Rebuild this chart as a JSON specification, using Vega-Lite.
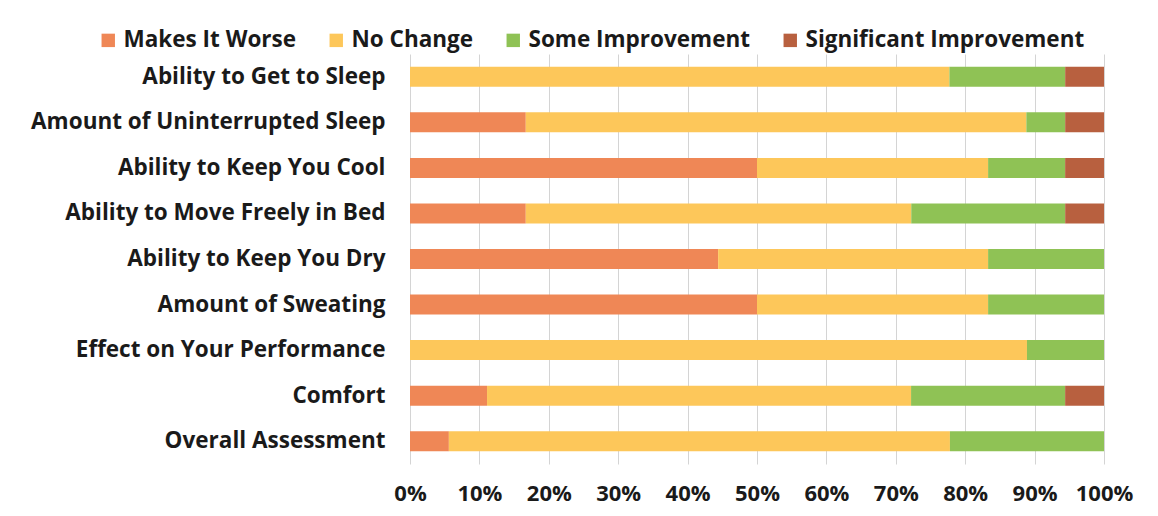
{
  "$schema": "https://vega.github.io/schema/vega-lite/v6.json",
  "width": 694,
  "height": 410,
  "autosize": "none",
  "padding": {"left": 410, "top": 54, "right": 54, "bottom": 52},
  "background": "white",
  "config": {
    "font": "Open Sans",
    "view": {"stroke": null}
  },
  "data": {
    "values": [
      {"item": "Ability to Get to Sleep", "resp": "Makes It Worse", "k": 1, "pct": 0},
      {"item": "Ability to Get to Sleep", "resp": "No Change", "k": 2, "pct": 77.8},
      {"item": "Ability to Get to Sleep", "resp": "Some Improvement", "k": 3, "pct": 16.7},
      {"item": "Ability to Get to Sleep", "resp": "Significant Improvement", "k": 4, "pct": 5.6},
      {"item": "Amount of Uninterrupted Sleep", "resp": "Makes It Worse", "k": 1, "pct": 16.7},
      {"item": "Amount of Uninterrupted Sleep", "resp": "No Change", "k": 2, "pct": 72.2},
      {"item": "Amount of Uninterrupted Sleep", "resp": "Some Improvement", "k": 3, "pct": 5.6},
      {"item": "Amount of Uninterrupted Sleep", "resp": "Significant Improvement", "k": 4, "pct": 5.6},
      {"item": "Ability to Keep You Cool", "resp": "Makes It Worse", "k": 1, "pct": 50},
      {"item": "Ability to Keep You Cool", "resp": "No Change", "k": 2, "pct": 33.3},
      {"item": "Ability to Keep You Cool", "resp": "Some Improvement", "k": 3, "pct": 11.1},
      {"item": "Ability to Keep You Cool", "resp": "Significant Improvement", "k": 4, "pct": 5.6},
      {"item": "Ability to Move Freely in Bed", "resp": "Makes It Worse", "k": 1, "pct": 16.7},
      {"item": "Ability to Move Freely in Bed", "resp": "No Change", "k": 2, "pct": 55.6},
      {"item": "Ability to Move Freely in Bed", "resp": "Some Improvement", "k": 3, "pct": 22.2},
      {"item": "Ability to Move Freely in Bed", "resp": "Significant Improvement", "k": 4, "pct": 5.6},
      {"item": "Ability to Keep You Dry", "resp": "Makes It Worse", "k": 1, "pct": 44.4},
      {"item": "Ability to Keep You Dry", "resp": "No Change", "k": 2, "pct": 38.9},
      {"item": "Ability to Keep You Dry", "resp": "Some Improvement", "k": 3, "pct": 16.7},
      {"item": "Ability to Keep You Dry", "resp": "Significant Improvement", "k": 4, "pct": 0},
      {"item": "Amount of Sweating", "resp": "Makes It Worse", "k": 1, "pct": 50},
      {"item": "Amount of Sweating", "resp": "No Change", "k": 2, "pct": 33.3},
      {"item": "Amount of Sweating", "resp": "Some Improvement", "k": 3, "pct": 16.7},
      {"item": "Amount of Sweating", "resp": "Significant Improvement", "k": 4, "pct": 0},
      {"item": "Effect on Your Performance", "resp": "Makes It Worse", "k": 1, "pct": 0},
      {"item": "Effect on Your Performance", "resp": "No Change", "k": 2, "pct": 88.9},
      {"item": "Effect on Your Performance", "resp": "Some Improvement", "k": 3, "pct": 11.1},
      {"item": "Effect on Your Performance", "resp": "Significant Improvement", "k": 4, "pct": 0},
      {"item": "Comfort", "resp": "Makes It Worse", "k": 1, "pct": 11.1},
      {"item": "Comfort", "resp": "No Change", "k": 2, "pct": 61.1},
      {"item": "Comfort", "resp": "Some Improvement", "k": 3, "pct": 22.2},
      {"item": "Comfort", "resp": "Significant Improvement", "k": 4, "pct": 5.6},
      {"item": "Overall Assessment", "resp": "Makes It Worse", "k": 1, "pct": 5.6},
      {"item": "Overall Assessment", "resp": "No Change", "k": 2, "pct": 72.2},
      {"item": "Overall Assessment", "resp": "Some Improvement", "k": 3, "pct": 22.2},
      {"item": "Overall Assessment", "resp": "Significant Improvement", "k": 4, "pct": 0}
    ]
  },
  "mark": {"type": "bar", "height": 20},
  "encoding": {
    "y": {
      "field": "item",
      "type": "nominal",
      "sort": ["Ability to Get to Sleep", "Amount of Uninterrupted Sleep", "Ability to Keep You Cool", "Ability to Move Freely in Bed", "Ability to Keep You Dry", "Amount of Sweating", "Effect on Your Performance", "Comfort", "Overall Assessment"],
      "axis": {
        "title": null,
        "domain": false,
        "ticks": false,
        "labelFont": "Open Sans",
        "labelFontSize": 22.5,
        "labelFontWeight": "bold",
        "labelColor": "#1a1a1a",
        "labelPadding": 25,
        "labelLimit": 400
      }
    },
    "x": {
      "field": "pct",
      "type": "quantitative",
      "stack": "normalize",
      "scale": {"domain": [0, 1]},
      "axis": {
        "title": null,
        "format": "%",
        "values": [0, 0.1, 0.2, 0.3, 0.4, 0.5, 0.6, 0.7, 0.8, 0.9, 1],
        "labelOverlap": false,
        "labelFlush": false,
        "labelBound": false,
        "domain": false,
        "ticks": false,
        "grid": true,
        "gridColor": "#d4d4d4",
        "labelFont": "Open Sans",
        "labelFontSize": 22,
        "labelFontWeight": "bold",
        "labelColor": "#1a1a1a",
        "labelPadding": 19
      }
    },
    "color": {
      "field": "resp",
      "type": "nominal",
      "sort": ["Makes It Worse", "No Change", "Some Improvement", "Significant Improvement"],
      "scale": {
        "domain": ["Makes It Worse", "No Change", "Some Improvement", "Significant Improvement"],
        "range": ["#EF8756", "#FDC75A", "#8FC255", "#B8603F"]
      },
      "legend": {
        "title": null,
        "orient": "none",
        "direction": "horizontal",
        "legendX": -313,
        "legendY": -25,
        "symbolType": "square",
        "symbolSize": 180,
        "symbolStrokeWidth": 0,
        "labelFont": "Open Sans",
        "labelFontSize": 22.5,
        "labelFontWeight": "bold",
        "labelColor": "#1a1a1a",
        "labelLimit": 400,
        "columnPadding": 28,
        "labelOffset": 4
      }
    },
    "order": {"field": "k", "type": "quantitative"}
  }
}
